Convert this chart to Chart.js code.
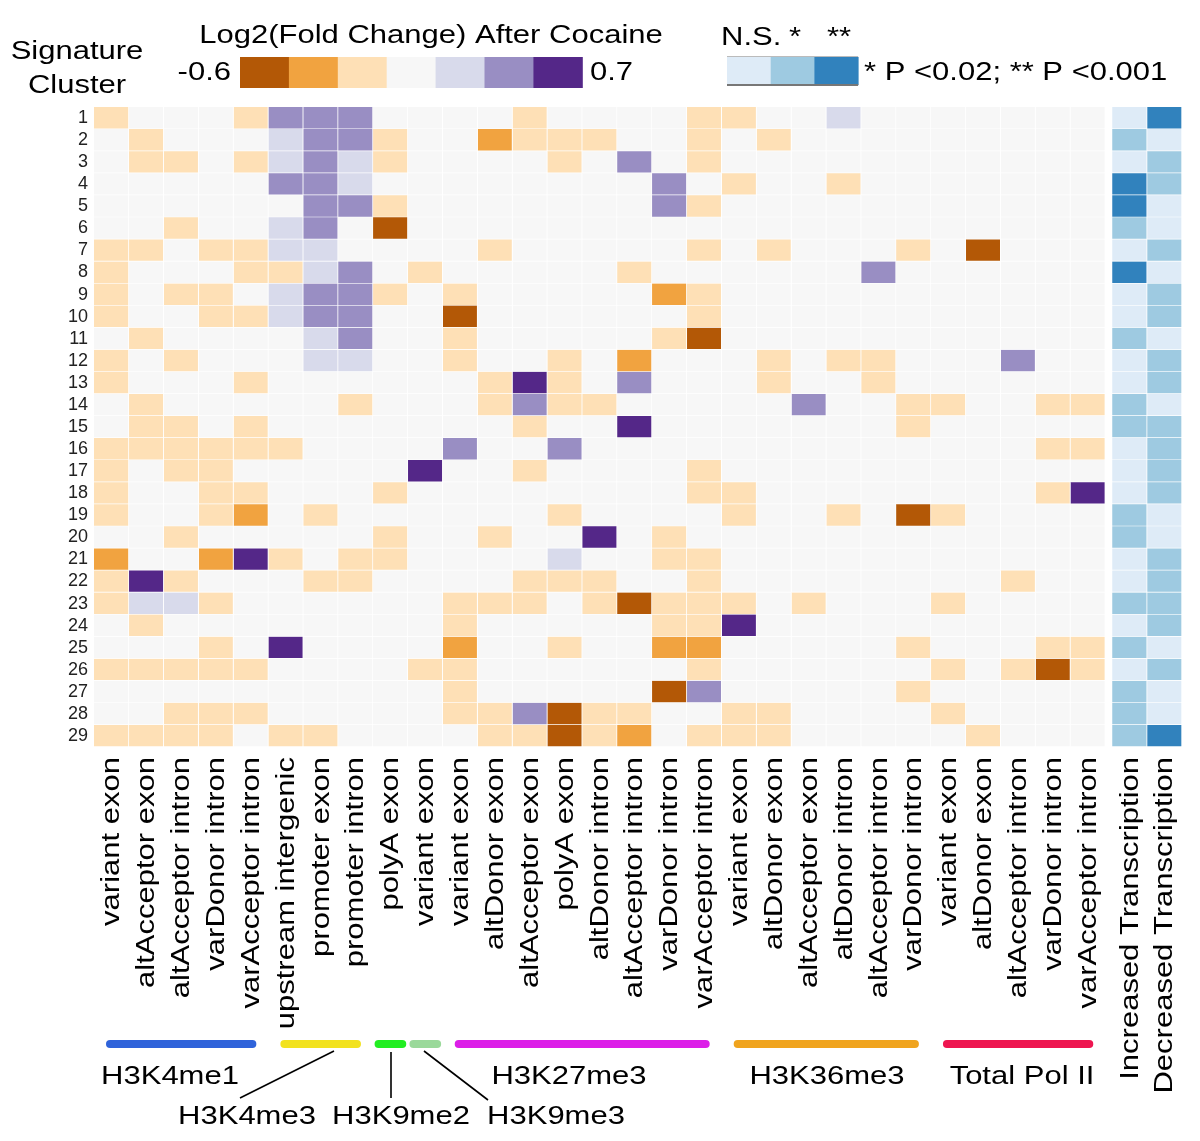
<!DOCTYPE html>
<html>
<head>
<meta charset="utf-8">
<script src="https://cdn.jsdelivr.net/npm/chart.js@4.4.1/dist/chart.umd.min.js"></script>
<style>
html, body { margin: 0; padding: 0; background: #fff; }
#wrap { width: 1200px; height: 1141px; position: relative; }
</style>
</head>
<body>
<div id="wrap"><canvas id="cocaine-heatmap"></canvas></div>
<script>
/* signature clusters (rows) */
var clusters = ['1','2','3','4','5','6','7','8','9','10','11','12','13','14','15',
                '16','17','18','19','20','21','22','23','24','25','26','27','28','29'];

/* feature columns, grouped by mark */
var columnLabels = [
  'variant exon', 'altAcceptor exon', 'altAcceptor intron', 'varDonor intron', 'varAcceptor intron',
  'upstream intergenic', 'promoter exon', 'promoter intron',
  'polyA exon',
  'variant exon',
  'variant exon', 'altDonor exon', 'altAcceptor exon', 'polyA exon', 'altDonor intron',
  'altAcceptor intron', 'varDonor intron', 'varAcceptor intron',
  'variant exon', 'altDonor exon', 'altAcceptor exon', 'altDonor intron', 'altAcceptor intron', 'varDonor intron',
  'variant exon', 'altDonor exon', 'altAcceptor intron', 'varDonor intron', 'varAcceptor intron'
];
var transcriptionLabels = ['Increased Transcription', 'Decreased Transcription'];

var groupNames = ['H3K4me1', 'H3K4me3', 'H3K9me2', 'H3K9me3', 'H3K27me3', 'H3K36me3', 'Total Pol II'];
var groupSizes = [5, 3, 1, 1, 8, 6, 5];

/* log2 fold change bin per cell: -3 (-0.6) .. 0 .. 3 (0.7) */
var foldLevels = [
  [-1,0,0,0,-1,2,2,2,0,0,0,0,-1,0,0,0,0,-1,-1,0,0,1,0,0,0,0,0,0,0],
  [0,-1,0,0,0,1,2,2,-1,0,0,-2,-1,-1,-1,0,0,-1,0,-1,0,0,0,0,0,0,0,0,0],
  [0,-1,-1,0,-1,1,2,1,-1,0,0,0,0,-1,0,2,0,-1,0,0,0,0,0,0,0,0,0,0,0],
  [0,0,0,0,0,2,2,1,0,0,0,0,0,0,0,0,2,0,-1,0,0,-1,0,0,0,0,0,0,0],
  [0,0,0,0,0,0,2,2,-1,0,0,0,0,0,0,0,2,-1,0,0,0,0,0,0,0,0,0,0,0],
  [0,0,-1,0,0,1,2,0,-3,0,0,0,0,0,0,0,0,0,0,0,0,0,0,0,0,0,0,0,0],
  [-1,-1,0,-1,-1,1,1,0,0,0,0,-1,0,0,0,0,0,-1,0,-1,0,0,0,-1,0,-3,0,0,0],
  [-1,0,0,0,-1,-1,1,2,0,-1,0,0,0,0,0,-1,0,0,0,0,0,0,2,0,0,0,0,0,0],
  [-1,0,-1,-1,0,1,2,2,-1,0,-1,0,0,0,0,0,-2,-1,0,0,0,0,0,0,0,0,0,0,0],
  [-1,0,0,-1,-1,1,2,2,0,0,-3,0,0,0,0,0,0,-1,0,0,0,0,0,0,0,0,0,0,0],
  [0,-1,0,0,0,0,1,2,0,0,-1,0,0,0,0,0,-1,-3,0,0,0,0,0,0,0,0,0,0,0],
  [-1,0,-1,0,0,0,1,1,0,0,-1,0,0,-1,0,-2,0,0,0,-1,0,-1,-1,0,0,0,2,0,0],
  [-1,0,0,0,-1,0,0,0,0,0,0,-1,3,-1,0,2,0,0,0,-1,0,0,-1,0,0,0,0,0,0],
  [0,-1,0,0,0,0,0,-1,0,0,0,-1,2,-1,-1,0,0,0,0,0,2,0,0,-1,-1,0,0,-1,-1],
  [0,-1,-1,0,-1,0,0,0,0,0,0,0,-1,0,0,3,0,0,0,0,0,0,0,-1,0,0,0,0,0],
  [-1,-1,-1,-1,-1,-1,0,0,0,0,2,0,0,2,0,0,0,0,0,0,0,0,0,0,0,0,0,-1,-1],
  [-1,0,-1,-1,0,0,0,0,0,3,0,0,-1,0,0,0,0,-1,0,0,0,0,0,0,0,0,0,0,0],
  [-1,0,0,-1,-1,0,0,0,-1,0,0,0,0,0,0,0,0,-1,-1,0,0,0,0,0,0,0,0,-1,3],
  [-1,0,0,-1,-2,0,-1,0,0,0,0,0,0,-1,0,0,0,0,-1,0,0,-1,0,-3,-1,0,0,0,0],
  [0,0,-1,0,0,0,0,0,-1,0,0,-1,0,0,3,0,-1,0,0,0,0,0,0,0,0,0,0,0,0],
  [-2,0,0,-2,3,-1,0,-1,-1,0,0,0,0,1,0,0,-1,-1,0,0,0,0,0,0,0,0,0,0,0],
  [-1,3,-1,0,0,0,-1,-1,0,0,0,0,-1,-1,-1,0,0,-1,0,0,0,0,0,0,0,0,-1,0,0],
  [-1,1,1,-1,0,0,0,0,0,0,-1,-1,-1,0,-1,-3,-1,-1,-1,0,-1,0,0,0,-1,0,0,0,0],
  [0,-1,0,0,0,0,0,0,0,0,-1,0,0,0,0,0,-1,-1,3,0,0,0,0,0,0,0,0,0,0],
  [0,0,0,-1,0,3,0,0,0,0,-2,0,0,-1,0,0,-2,-2,0,0,0,0,0,-1,0,0,0,-1,-1],
  [-1,-1,-1,-1,-1,0,0,0,0,-1,-1,0,0,0,0,0,0,-1,0,0,0,0,0,0,-1,0,-1,-3,-1],
  [0,0,0,0,0,0,0,0,0,0,-1,0,0,0,0,0,-3,2,0,0,0,0,0,-1,0,0,0,0,0],
  [0,0,-1,-1,-1,0,0,0,0,0,-1,-1,2,-3,-1,-1,0,0,-1,-1,0,0,0,0,-1,0,0,0,0],
  [-1,-1,-1,-1,0,-1,-1,0,0,0,0,-1,-1,-3,-1,-2,0,-1,-1,-1,0,0,0,0,0,-1,0,0,0]
];

/* significance: 0 = N.S., 1 = P<0.02, 2 = P<0.001 */
var increasedSig = [0,1,0,2,2,1,0,2,0,0,1,0,0,1,1,0,0,0,1,1,0,0,1,0,1,0,1,1,1];
var decreasedSig = [2,0,1,1,0,0,1,0,1,1,0,1,1,0,1,1,1,1,0,0,1,1,1,1,0,1,0,0,2];

var foldTicks = ['-0.6', '0.7'];
var sigTicks = ['N.S.', '*', '**'];

var foldColors = ['#b35806', '#f1a340', '#fee0b6', '#f7f7f7', '#d8daeb', '#998ec3', '#542788'];
var sigColors = ['#deebf7', '#9ecae1', '#3182bd'];
var groupColors = ['#2f63da', '#f2e21e', '#22ee22', '#9ad99a', '#dc1ee8', '#f0a41e', '#ee1650'];

var TRANS_GAP = 0.2;
var STRETCH = 1.24;   /* the figure text is wide, stretch glyphs along the baseline */
var FONT = '25px "Liberation Sans", Arial, sans-serif';

Chart.defaults.font.family = '"Liberation Sans", Arial, sans-serif';

function colStart(c) {
  return c < columnLabels.length ? c : c + TRANS_GAP;
}

function wideText(ctx, text, x, y, align, angle) {
  ctx.save();
  ctx.translate(x, y);
  if (angle) ctx.rotate(angle);
  ctx.scale(STRETCH, 1);
  ctx.textAlign = align;
  ctx.fillText(text, 0, 0);
  ctx.restore();
}

/* build one dataset per column */
var datasets = [];
columnLabels.forEach(function (name, c) {
  datasets.push({
    label: name,
    data: clusters.map(function () { return [colStart(c), colStart(c) + 1]; }),
    backgroundColor: foldLevels.map(function (row) { return foldColors[row[c] + 3]; })
  });
});
[increasedSig, decreasedSig].forEach(function (sig, k) {
  var c = columnLabels.length + k;
  datasets.push({
    label: transcriptionLabels[k],
    data: clusters.map(function () { return [colStart(c), colStart(c) + 1]; }),
    backgroundColor: sig.map(function (s) { return sigColors[s]; })
  });
});

/* labels, group bars and legends */
var decorations = {
  id: 'decorations',
  afterDraw: function (chart) {
    var ctx = chart.ctx;
    var xs = chart.scales.x;
    var area = chart.chartArea;
    ctx.save();
    ctx.fillStyle = '#000';
    ctx.font = FONT;

    // rotated column labels
    ctx.textBaseline = 'middle';
    var allLabels = columnLabels.concat(transcriptionLabels);
    allLabels.forEach(function (name, c) {
      var x = xs.getPixelForValue(colStart(c) + 0.5);
      wideText(ctx, name, x + 1, area.bottom + 10, 'right', -Math.PI / 2);
    });

    // group bars
    ctx.lineCap = 'round';
    ctx.lineWidth = 8;
    var start = 0;
    groupSizes.forEach(function (n, g) {
      var x0 = xs.getPixelForValue(start);
      var x1 = xs.getPixelForValue(start + n);
      var inset = Math.min(16, (x1 - x0) * 0.16);
      ctx.strokeStyle = groupColors[g];
      ctx.beginPath();
      ctx.moveTo(x0 + inset, 1044);
      ctx.lineTo(x1 - inset, 1044);
      ctx.stroke();
      start += n;
    });

    // group names
    ctx.textBaseline = 'alphabetic';
    ctx.fillStyle = '#000';
    wideText(ctx, groupNames[0], 170, 1084, 'center');
    wideText(ctx, groupNames[4], 569, 1084, 'center');
    wideText(ctx, groupNames[5], 827, 1084, 'center');
    wideText(ctx, groupNames[6], 1022, 1084, 'center');
    wideText(ctx, groupNames[1], 247, 1124, 'center');
    wideText(ctx, groupNames[2], 401, 1124, 'center');
    wideText(ctx, groupNames[3], 556, 1124, 'center');

    ctx.strokeStyle = '#000';
    ctx.lineWidth = 1.6;
    ctx.lineCap = 'butt';
    ctx.beginPath();
    ctx.moveTo(334, 1051); ctx.lineTo(240, 1098);
    ctx.moveTo(391, 1052); ctx.lineTo(391, 1098);
    ctx.moveTo(424, 1051); ctx.lineTo(488, 1100);
    ctx.stroke();

    // header texts
    wideText(ctx, 'Signature', 77, 59, 'center');
    wideText(ctx, 'Cluster', 77, 93, 'center');
    wideText(ctx, 'Log2(Fold Change) After Cocaine', 431, 43, 'center');

    // fold change legend
    var lx = 240, bw = 48.9;
    foldColors.forEach(function (col, i) {
      ctx.fillStyle = col;
      ctx.fillRect(lx + i * bw, 57, bw + 0.5, 31);
    });
    ctx.fillStyle = '#000';
    wideText(ctx, foldTicks[0], 231, 80, 'right');
    wideText(ctx, foldTicks[1], 590, 80, 'left');

    // significance legend
    var sx = 727, sw = 43.7;
    sigColors.forEach(function (col, i) {
      ctx.fillStyle = col;
      ctx.fillRect(sx + i * sw, 57, sw + 0.5, 28);
    });
    ctx.fillStyle = '#bbb';
    ctx.fillRect(sx, 56, sw * 3, 1);
    ctx.fillStyle = '#777';
    ctx.fillRect(sx, 84, sw * 3, 2);
    ctx.fillStyle = '#000';
    wideText(ctx, sigTicks[0], 721, 45, 'left');
    wideText(ctx, sigTicks[1], 795, 45, 'center');
    wideText(ctx, sigTicks[2], 839, 45, 'center');
    wideText(ctx, '* P <0.02; ** P <0.001', 864, 80, 'left');

    ctx.restore();
  }
};

var ctx = document.getElementById('cocaine-heatmap');
var myChart = new Chart(ctx, {
  type: 'bar',
  data: {
    labels: clusters,
    datasets: datasets
  },
  options: {
    indexAxis: 'y',
    responsive: true,
    maintainAspectRatio: false,
    animation: false,
    layout: { padding: { top: 107, bottom: 394, right: 18, left: 0 } },
    datasets: {
      bar: {
        grouped: false,
        barPercentage: 1,
        categoryPercentage: 1,
        borderColor: '#ffffff',
        borderWidth: { top: 0, left: 0, right: 1, bottom: 1 },
        borderSkipped: false
      }
    },
    plugins: {
      legend: { display: false },
      tooltip: { enabled: false }
    },
    scales: {
      x: {
        type: 'linear',
        min: 0,
        max: columnLabels.length + TRANS_GAP + transcriptionLabels.length,
        display: false
      },
      y: {
        type: 'category',
        grid: { display: false, drawTicks: false },
        border: { display: false },
        ticks: { color: '#222', font: { size: 18 }, padding: 6, autoSkip: false },
        afterFit: function (scale) { scale.width = 94; }
      }
    }
  },
  plugins: [decorations]
});
</script>
</body>
</html>
